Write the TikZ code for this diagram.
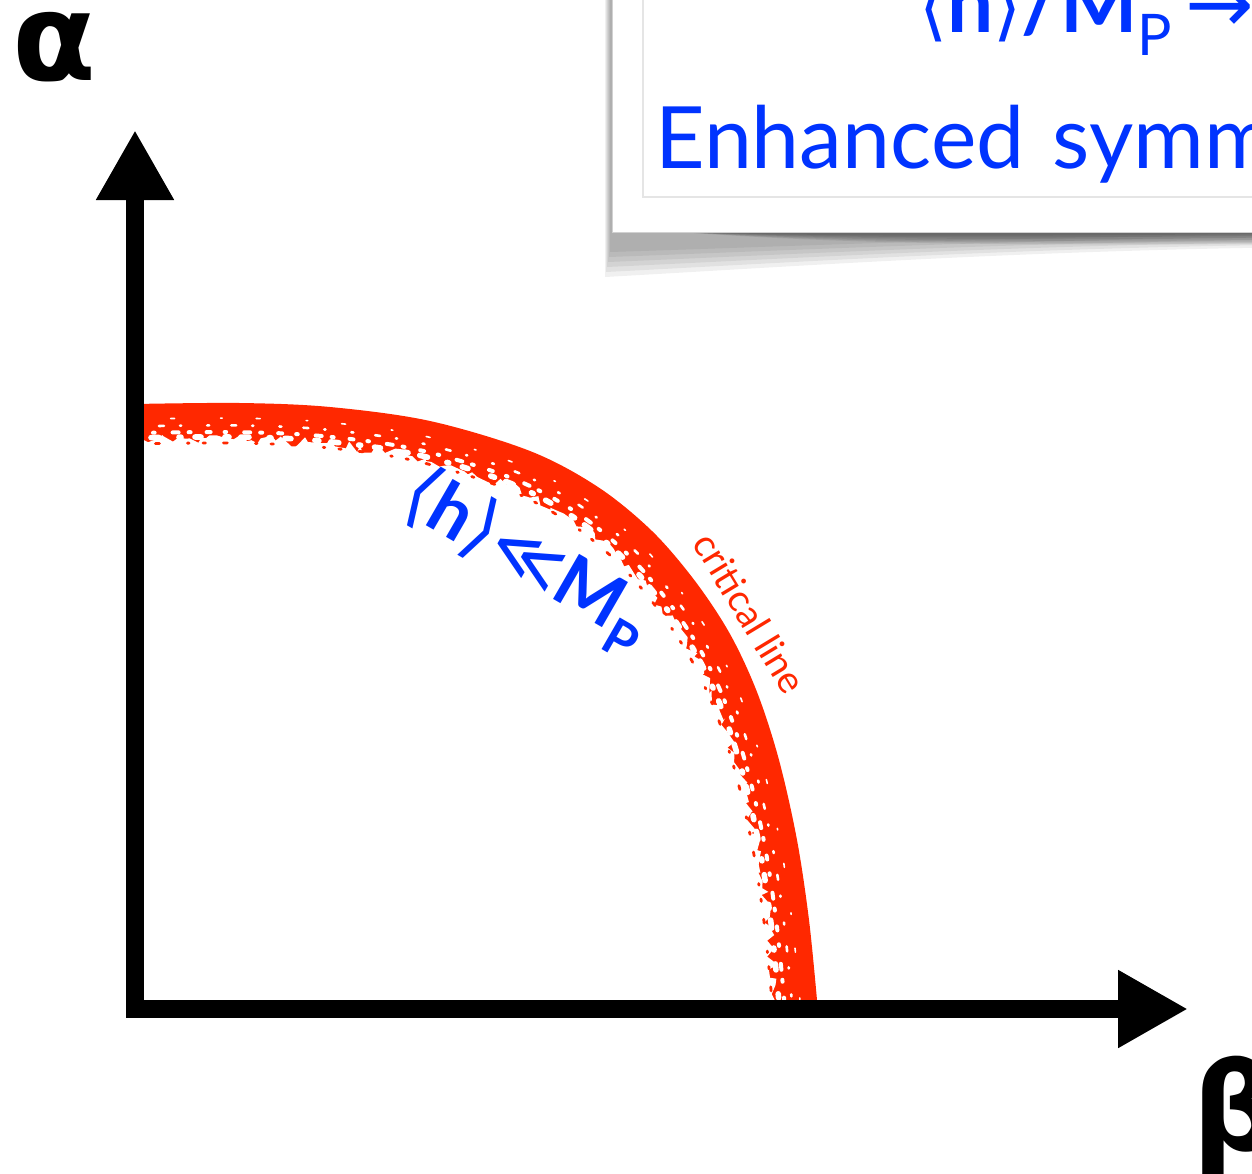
\documentclass[tikz,border=0pt]{standalone}
\usepackage{graphicx}
\usepackage{fontspec}
\setmainfont{Lato}
\newfontfamily\grk{DejaVu Sans}
\usetikzlibrary{arrows.meta,decorations.pathmorphing}
\definecolor{critred}{RGB}{255,40,0}
\definecolor{hblue}{RGB}{0,51,255}
\newcommand\critcurve{plot[smooth, tension=0.55] coordinates {(135,404) (240,403) (330,407) (430,421) (530,451) (598,487) (652,531) (695,581) (730,634) (757,692) (779,760) (797,840) (809,920) (817,1000)}}
\begin{document}
\begin{tikzpicture}[x=0.5pt,y=-0.5pt,
  axis/.style={line width=9pt, line join=miter, arrows={Triangle[length=35pt,width=36.5pt]-Triangle[length=35pt,width=36.5pt]}},
  bluetext/.style={text=hblue, inner sep=0pt},
  speck/.style={white, line cap=round}]
\pgfmathsetseed{7}
\useasboundingbox (0,0) rectangle (1252,1173);
\fill[white] (0,0) rectangle (1252,1173);
% shadow of the box
\foreach \k in {1,...,6} {
  \fill[black, opacity=0.06] (604+\k,-10) -- (604+\k,282-5*\k) .. controls (800,270-4*\k) and (1000,255-3*\k) .. (1270,250-2.5*\k) -- (1270,-10) -- cycle;
}
\foreach \k in {1,...,6} {
  \fill[black, opacity=0.08] (680,232) .. controls (850,246-1.5*\k) and (1000,247-1.8*\k) .. (1270,246-2*\k) -- (1270,232) -- cycle;
}
% box
\fill[white] (612,-10) rectangle (1270,232);
\draw[black!18, line width=0.5pt] (612,-10) -- (612,232) -- (1270,232);
\draw[black!10, line width=0.6pt] (643,-10) -- (643,197) -- (1270,197);
\node[bluetext, anchor=base west, font=\fontsize{41}{46}\selectfont] (ratio) at (919,32)
  {{\grk\fontsize{36}{40}\selectfont ⟨}\textbf{h}{\grk\fontsize{36}{40}\selectfont ⟩}\textbf{/M}\textsubscript{P}\hspace{6pt}{\grk →}};
\node[bluetext, anchor=base west, font=\fontsize{43}{50}\selectfont] (enh) at (655,168)
  {Enhanced\hspace{3pt} symm};
% red critical band
\fill[critred] \critcurve -- (817,1009) -- (135,1009) -- cycle;
\fill[white, decorate, decoration={random steps, segment length=3pt, amplitude=2.4pt}, scale around={0.94:(135,1009)}]
  \critcurve -- (817,1009) -- (135,1009) -- cycle;
\draw[critred, line cap=round, line width=1.4pt, dash pattern=on 1.2pt off 9pt on 2pt off 14pt on 0.8pt off 7pt, scale around={0.934:(135,1009)}] \critcurve;
\draw[speck, line width=2.8pt, dash pattern=on 2pt off 6pt on 4pt off 10pt on 1pt off 7pt on 3pt off 12pt, scale around={0.944:(135,1009)}] \critcurve;
\draw[speck, line width=2pt, dash pattern=on 2pt off 7pt on 0.8pt off 9pt on 3pt off 5pt on 1pt off 8pt, scale around={0.952:(135,1009)}] \critcurve;
\draw[speck, line width=1.3pt, dash pattern=on 1pt off 11pt on 2.5pt off 8pt on 0.6pt off 13pt, scale around={0.963:(135,1009)}] \critcurve;
\draw[speck, line width=0.8pt, dash pattern=on 0.8pt off 17pt on 2pt off 23pt, scale around={0.975:(135,1009)}] \critcurve;
% axes
\coordinate (ytip) at (135,130);
\coordinate (corner) at (135,1009);
\coordinate (xtip) at (1188,1009);
\draw[axis] (ytip) -- (corner) -- (xtip);
% labels
\node[anchor=base west, inner sep=0pt, font=\grk\bfseries\fontsize{61}{64}\selectfont] (alpha) at (12,80) {α};
\node[anchor=base west, inner sep=0pt, font=\grk\bfseries\fontsize{61}{64}\selectfont] (beta) at (1192,1150) {β};
\node[bluetext, font=\fontsize{36}{42}\selectfont, rotate=-30] (hlabel) at (526,561)
  {{\grk\fontsize{38}{42}\selectfont ⟨}\textbf{h}{\grk\fontsize{38}{42}\selectfont ⟩}{\grk ≪}\textbf{M}\textsubscript{\textbf{P}}};
\node[text=critred, inner sep=0pt, font=\fontsize{19}{23}\selectfont, rotate=-58.8] (crit) at (750,613)
  {critical line};
\end{tikzpicture}
\end{document}
